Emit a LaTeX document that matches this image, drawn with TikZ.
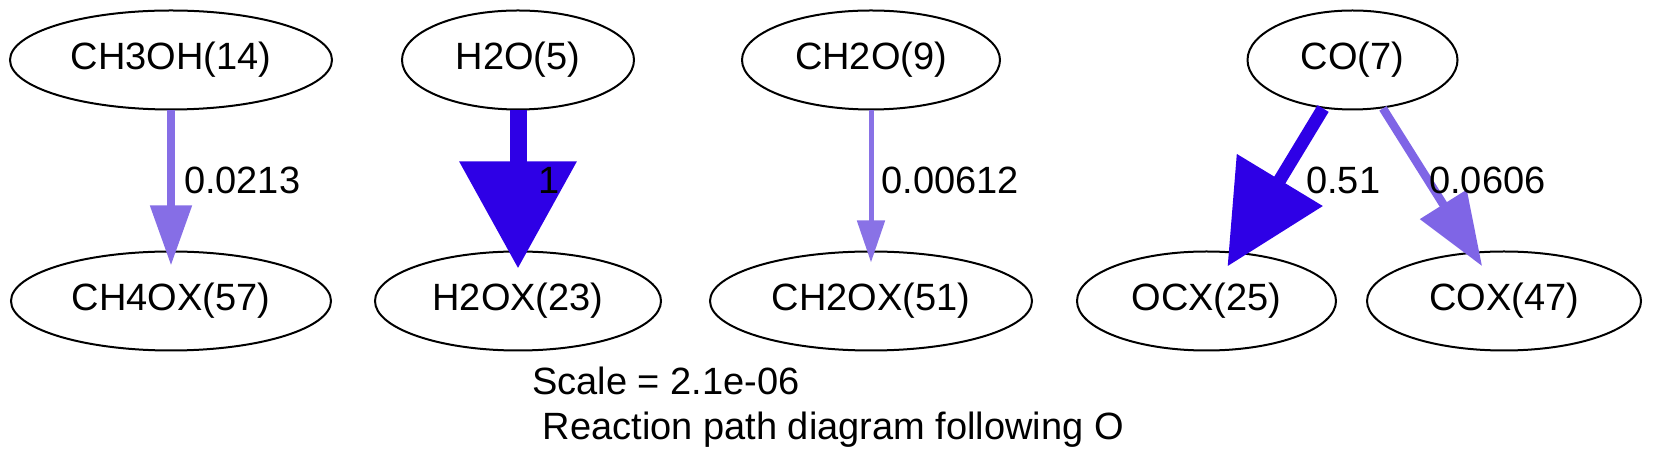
\documentclass[tikz,border=0pt]{standalone}
\usepackage{fontspec}
\setmainfont{Liberation Sans}
\usetikzlibrary{positioning,arrows.meta,shapes.geometric}

% flux colours (hue 0.7, value 0.9)
\definecolor{fluxfull}{RGB}{46,0,230}
\definecolor{fluxa}{RGB}{134,110,230}
\definecolor{fluxb}{RGB}{137,114,230}
\definecolor{fluxc}{RGB}{127,101,230}

\begin{document}
\begin{tikzpicture}[
  x=0.5pt, y=-0.5pt,
  every node/.append style={font=\fontsize{19}{22.8}\selectfont},
  spec/.style={ellipse, draw=black, line width=1pt, inner sep=0pt,
               minimum height=49.5pt},
  flux/.style={anchor=west, inner sep=0pt, text=black},
  rxn/.style={shorten >=-7.5pt}
]
\useasboundingbox (0,0) rectangle (1653,469);

% species on the top rank
\node[spec, minimum width=161pt] (ch3oh) at (171,60) {CH3OH(14)};
\node[spec, minimum width=116pt] (h2o) at (518,60) {H2O(5)};
\node[spec, minimum width=129pt] (ch2o) at (871,60) {CH2O(9)};
\node[spec, minimum width=105pt] (co) at (1352.5,60) {CO(7)};

% adsorbed species
\node[spec, minimum width=160pt, below=70pt of ch3oh] (ch4ox) {CH4OX(57)};
\node[spec, minimum width=143pt, below=70pt of h2o] (h2ox) {H2OX(23)};
\node[spec, minimum width=161pt, below=70pt of ch2o] (ch2ox) {CH2OX(51)};
\node[spec, minimum width=129.5pt, below=70pt of co, xshift=-73pt] (ocx) {OCX(25)};
\node[spec, minimum width=137pt, below=70pt of co, xshift=75.75pt] (cox) {COX(47)};

\node[anchor=base west, align=left, inner sep=0pt] (caption) at (532,440)
  {Scale = 2.1e-06\\\mbox{} Reaction path diagram following O};

\draw[rxn, line width=4pt, draw=fluxa, -{Triangle[width=20pt,length=30pt]}]
  (ch3oh) -- node[flux, xshift=4.5pt] {0.0213} (ch4ox);
\draw[rxn, line width=8.5pt, draw=fluxfull, shorten >=-9pt,
  -{Triangle[width=56.5pt,length=53.5pt]}]
  (h2o) -- node[flux, xshift=6pt] {1} (h2ox);
\draw[rxn, line width=2.5pt, draw=fluxb, shorten >=-6pt,
  -{Triangle[width=13.5pt,length=21pt]}]
  (ch2o) -- node[flux, xshift=4pt] {0.00612} (ch2ox);
\draw[rxn, line width=6.5pt, draw=fluxfull, shorten >=-8.5pt,
  -{Triangle[width=48.5pt,length=50.5pt]}]
  (co) -- node[flux, xshift=10pt] {0.51} (ocx);
\draw[rxn, line width=4.25pt, draw=fluxc, shorten >=-8.5pt,
  -{Triangle[width=26.5pt,length=36.5pt]}]
  (co) -- node[flux, xshift=-1.5pt] {0.0606} (cox);

\end{tikzpicture}
\end{document}
